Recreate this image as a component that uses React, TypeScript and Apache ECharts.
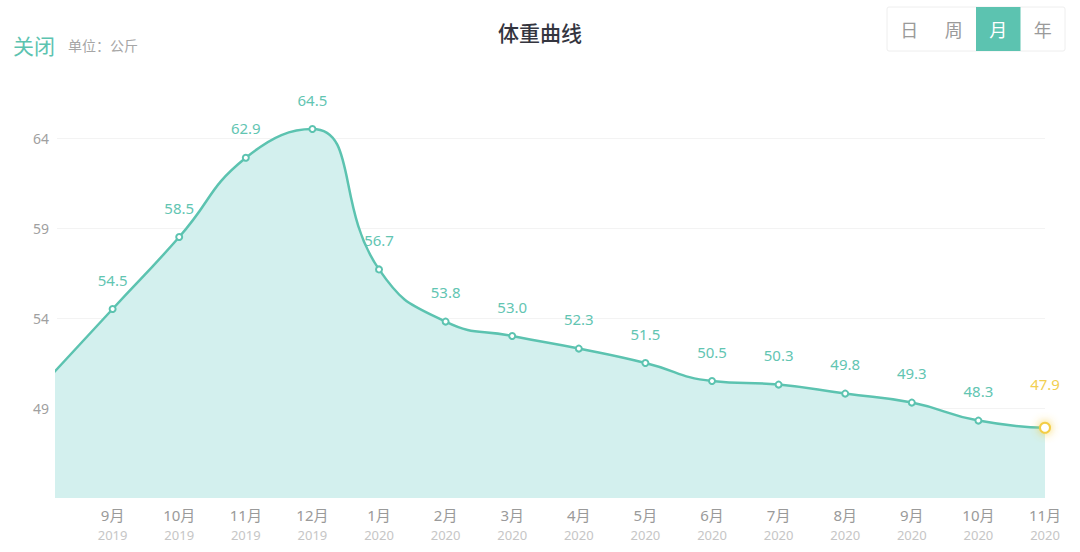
import { useEffect, useRef } from 'react';
import * as echarts from 'echarts';

const months = ['8月', '9月', '10月', '11月', '12月', '1月', '2月', '3月', '4月', '5月', '6月', '7月', '8月', '9月', '10月', '11月'];
const years = ['2019', '2019', '2019', '2019', '2019', '2020', '2020', '2020', '2020', '2020', '2020', '2020', '2020', '2020', '2020', '2020'];
const weights = [50.5, 54.5, 58.5, 62.9, 64.5, 56.7, 53.8, 53.0, 52.3, 51.5, 50.5, 50.3, 49.8, 49.3, 48.3, 47.9];
const tabs = ['日', '周', '月', '年'];
const activeTab = 2;

const GREEN = '#5cc3b0';
const FONT = '"Noto Sans", "Noto Sans CJK SC", sans-serif';

function App() {
  const chartRef = useRef(null);

  useEffect(() => {
    document.body.style.margin = '0';
    const myChart = echarts.init(chartRef.current, null, { renderer: 'svg' });

    const last = weights.length - 1;
    const data = weights.map((w, i) =>
      i === last
        ? {
            value: [i, w],
            symbolSize: 10,
            itemStyle: {
              color: '#f3cd45',
              borderWidth: 2.5,
              shadowBlur: 10,
              shadowColor: 'rgba(245, 205, 60, 0.9)',
            },
            label: { color: '#f2cf52', distance: 30 },
          }
        : { value: [i, w] }
    );

    const tabX = 887;
    const tabW = 44.5;
    const tabGraphics: any[] = [
      {
        type: 'rect',
        shape: { x: tabX, y: 7, width: tabW * tabs.length, height: 44, r: 2 },
        style: { fill: '#fff', stroke: '#eeeeee', lineWidth: 1 },
      },
      {
        type: 'rect',
        shape: { x: tabX + tabW * activeTab, y: 7, width: tabW, height: 44 },
        style: { fill: GREEN },
      },
    ];
    tabs.forEach((t, i) => {
      tabGraphics.push({
        type: 'text',
        x: tabX + tabW * i + tabW / 2,
        y: 29,
        style: {
          text: t,
          fill: i === activeTab ? '#fff' : '#9a9a9a',
          font: `18px "Noto Sans CJK SC"`,
          align: 'center',
          verticalAlign: 'middle',
        },
      });
    });

    const option = {
      animation: false,
      textStyle: { fontFamily: FONT },
      title: {
        text: '体重曲线',
        left: 'center',
        top: 16,
        textStyle: {
          fontSize: 21,
          fontWeight: 500,
          color: '#34353f',
          fontFamily: '"Noto Sans CJK SC"',
        },
      },
      graphic: [
        {
          type: 'text',
          x: 13,
          y: 45,
          style: {
            text: '关闭',
            fill: GREEN,
            font: '21px "Noto Sans CJK SC"',
            verticalAlign: 'middle',
          },
        },
        {
          type: 'text',
          x: 68,
          y: 45,
          style: {
            text: '单位：公斤',
            fill: '#a6a6a6',
            font: '14px "Noto Sans CJK SC"',
            verticalAlign: 'middle',
          },
        },
        ...tabGraphics,
      ],
      grid: {
        left: 57,
        right: 35,
        top: 48,
        bottom: 54,
      },
      xAxis: {
        type: 'value',
        min: 0.165,
        max: last,
        axisLine: { show: false },
        axisTick: { show: false },
        splitLine: { show: false },
        axisLabel: {
          customValues: weights.map((_, i) => i).slice(1),
          margin: 7,
          formatter: (v: number) => `{m|${months[Math.round(v)]}}\n{y|${years[Math.round(v)]}}`,
          rich: {
            m: { fontSize: 15, color: '#9a9a9a', lineHeight: 20, fontFamily: FONT },
            y: { fontSize: 13, color: '#c6c6c6', lineHeight: 20, fontFamily: FONT },
          },
        },
      },
      yAxis: {
        type: 'value',
        min: 44,
        max: 69,
        interval: 5,
        axisLine: { show: false },
        axisTick: { show: false },
        axisLabel: {
          showMinLabel: false,
          showMaxLabel: false,
          color: '#a0a0a0',
          fontSize: 14,
          margin: 8,
        },
        splitLine: {
          lineStyle: {
            color: ['transparent', '#f3f3f3', '#f3f3f3', '#f3f3f3', '#f3f3f3', 'transparent'],
          },
        },
      },
      series: [
        {
          type: 'line',
          data,
          smooth: true,
          clip: true,
          symbol: 'emptyCircle',
          symbolSize: 6,
          showAllSymbol: true,
          lineStyle: { color: GREEN, width: 2.5 },
          itemStyle: { color: GREEN, borderWidth: 1.5 },
          areaStyle: { color: '#d3f0ee', opacity: 1 },
          label: {
            show: true,
            position: 'top',
            distance: 18,
            color: '#62c5b2',
            fontSize: 15,
            formatter: (p: any) => p.value[1].toFixed(1),
          },
        },
      ],
    };

    myChart.setOption(option);

    return () => {
      myChart.dispose();
    };
  }, []);

  return <div ref={chartRef} style={{ width: '1080px', height: '552px' }}></div>;
}

export default App;
